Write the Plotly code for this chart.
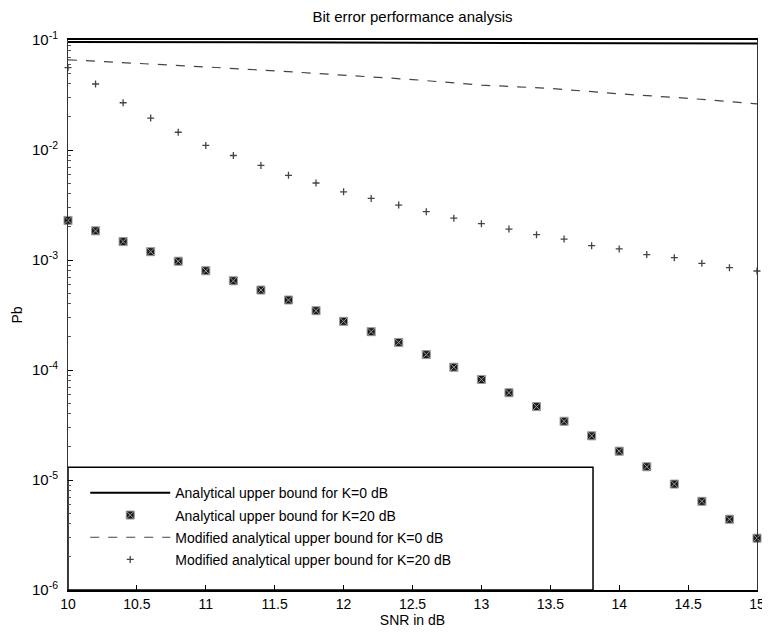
import plotly.graph_objects as go

# SNR grid (dB)
snr_markers = [10.0, 10.2, 10.4, 10.6, 10.8, 11.0, 11.2, 11.4, 11.6, 11.8, 12.0, 12.2, 12.4,
               12.6, 12.8, 13.0, 13.2, 13.4, 13.6, 13.8, 14.0, 14.2, 14.4, 14.6, 14.8, 15.0]
snr_lines = [10.0, 10.5, 11.0, 11.5, 12.0, 12.5, 13.0, 13.5, 14.0, 14.5, 15.0]

# Analytical upper bound, K = 0 dB (solid line)
pb_analytic_k0 = [0.096, 0.0957, 0.0954, 0.0951, 0.0948, 0.0945, 0.0942, 0.0939, 0.0936, 0.0933, 0.093]

# Analytical upper bound, K = 20 dB (markers)
pb_analytic_k20 = [2.29e-3, 1.84e-3, 1.47e-3, 1.19e-3, 9.75e-4, 7.98e-4, 6.47e-4, 5.33e-4, 4.33e-4,
                   3.46e-4, 2.77e-4, 2.23e-4, 1.78e-4, 1.38e-4, 1.06e-4, 8.20e-5, 6.21e-5, 4.65e-5,
                   3.42e-5, 2.52e-5, 1.83e-5, 1.32e-5, 9.18e-6, 6.40e-6, 4.40e-6, 2.96e-6]

# Modified analytical upper bound, K = 0 dB (dashed line)
pb_modified_k0 = [0.0661, 0.0617, 0.0569, 0.0525, 0.0479, 0.0437, 0.0389, 0.0363, 0.0324, 0.0295, 0.0263]

# Modified analytical upper bound, K = 20 dB (+ markers)
pb_modified_k20 = [0.0562, 0.0398, 0.0269, 0.0195, 0.0145, 0.0110, 0.00891, 0.00724, 0.00589, 0.00501,
                   0.00417, 0.00363, 0.00316, 0.00275, 0.00240, 0.00214, 0.00191, 0.00170, 0.00155,
                   0.00135, 0.00126, 0.00112, 0.00105, 9.33e-4, 8.51e-4, 7.94e-4]

x_ticks = [10, 10.5, 11, 11.5, 12, 12.5, 13, 13.5, 14, 14.5, 15]
x_ticktext = ["10", "10.5", "11", "11.5", "12", "12.5", "13", "13.5", "14", "14.5", "15"]
y_ticks = [1e-1, 1e-2, 1e-3, 1e-4, 1e-5, 1e-6]
y_ticktext = ["10<sup>-1</sup>", "10<sup>-2</sup>", "10<sup>-3</sup>",
              "10<sup>-4</sup>", "10<sup>-5</sup>", "10<sup>-6</sup>"]

FONT = "Liberation Sans, Arial, sans-serif"

fig = go.Figure()
fig.add_trace(go.Scatter(x=snr_lines, y=pb_analytic_k0, mode="lines", cliponaxis=False,
                         line=dict(color="black", width=2),
                         name="Analytical upper bound for K=0 dB", legendgroup="a"))
fig.add_trace(go.Scatter(x=snr_markers, y=pb_analytic_k20, mode="markers", cliponaxis=False,
                         marker=dict(symbol="square-x", size=8, color="#1a1a1a",
                                     line=dict(color="#9a9a9a", width=1)),
                         name="Analytical upper bound for K=20 dB", legendgroup="b"))
fig.add_trace(go.Scatter(x=snr_lines, y=pb_modified_k0, mode="lines", cliponaxis=False,
                         line=dict(color="#444", width=1.2, dash="dash"),
                         name="Modified analytical upper bound for K=0 dB", legendgroup="c"))
fig.add_trace(go.Scatter(x=snr_markers, y=pb_modified_k20, mode="markers", cliponaxis=False,
                         marker=dict(symbol="cross-thin", size=5, color="#444",
                                     line=dict(color="#444", width=1.3)),
                         name="Modified analytical upper bound for K=20 dB", legendgroup="d"))

# legend frame (boxed legend in the lower-left corner)
fig.add_shape(type="rect", xref="paper", yref="paper", x0=0, x1=0.762, y0=0, y1=0.223,
              line=dict(color="black", width=1.5), fillcolor="white", layer="below")

fig.update_layout(
    width=762, height=627,
    margin=dict(l=60, r=13, t=32, b=45),
    paper_bgcolor="white", plot_bgcolor="white",
    font=dict(family=FONT, size=13, color="black"),
    title=dict(text="Bit error performance analysis", xref="paper", x=0.5, xanchor="center",
               y=1.0, yanchor="top", pad=dict(t=3), font=dict(size=15, color="black")),
    showlegend=True,
    legend=dict(x=0.025, y=0.205, xanchor="left", yanchor="top",
                bgcolor="rgba(0,0,0,0)", borderwidth=0,
                font=dict(size=14, color="black"), tracegroupgap=1,
                itemwidth=80),
    xaxis=dict(range=[10, 15], tickvals=x_ticks, ticktext=x_ticktext,
               ticks="inside", ticklen=5, tickcolor="black", automargin=False,
               tickfont=dict(size=14), ticklabeloverflow="allow",
               showline=True, linecolor="black", linewidth=2, mirror=True,
               showgrid=False, zeroline=False,
               title=dict(text="SNR in dB", standoff=4, font=dict(size=14))),
    yaxis=dict(type="log", range=[-6, -1], tickvals=y_ticks, ticktext=y_ticktext,
               ticks="inside", ticklen=5, tickcolor="black", automargin=False,
               tickfont=dict(size=15), ticklabelstandoff=6, ticklabeloverflow="allow",
               minor=dict(ticks="inside", ticklen=3, tickcolor="#555", showgrid=False, dtick="D1"),
               showline=True, linecolor="#333", linewidth=1, mirror=True,
               showgrid=False, zeroline=False,
               title=dict(text="Pb", standoff=6, font=dict(size=14))),
)

fig.write_html("out.html")
